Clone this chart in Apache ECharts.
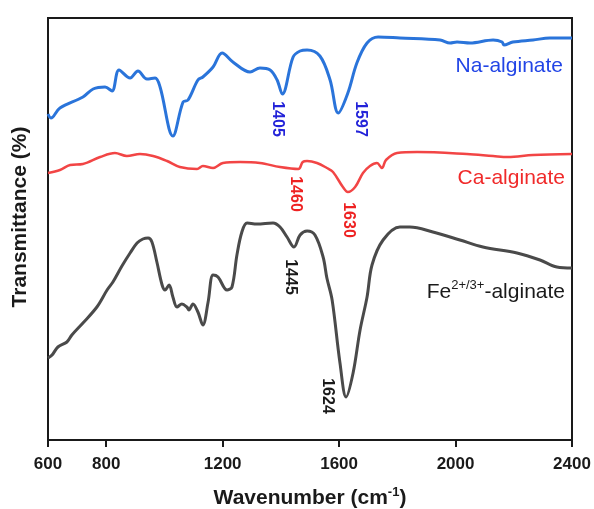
<!DOCTYPE html>
<html>
<head>
<meta charset="utf-8">
<script src="https://cdn.jsdelivr.net/npm/echarts@6/dist/echarts.min.js"></script>
<style>
  html, body { margin: 0; padding: 0; background: #fff; }
  #chart { width: 594px; height: 509px; }
</style>
</head>
<body>
<div id="chart"></div>
<script>
// FTIR spectra of Na-, Ca- and Fe-alginate (offset transmittance, arbitrary units)
const naWn = [600, 610, 641, 720, 755, 796, 820, 844, 882, 909, 940, 968, 985, 1029, 1064, 1081, 1115, 1132, 1167, 1198, 1235, 1294, 1328, 1363, 1387, 1405, 1442, 1466, 1490, 1534, 1569, 1597, 1630, 1661, 1696, 1734, 1809, 1947, 1981, 2005, 2050, 2129, 2160, 2166, 2197, 2266, 2324, 2400];
const naT  = [326, 322, 332, 343, 351, 353, 349, 370, 362, 369, 361, 362, 353, 304, 338, 340, 360, 363, 373, 387, 378, 368, 372, 370, 360, 346, 383, 389, 390, 384, 360, 327, 347, 377, 397, 403, 402, 400, 397, 398, 397, 400, 398, 395, 398, 400, 402, 402];

const caWn = [600, 641, 676, 720, 779, 830, 871, 916, 961, 1009, 1053, 1112, 1132, 1167, 1201, 1260, 1328, 1397, 1460, 1475, 1490, 1524, 1558, 1579, 1613, 1630, 1655, 1682, 1706, 1730, 1747, 1761, 1799, 1868, 2039, 2129, 2180, 2266, 2400];
const caT  = [267, 270, 275, 276, 283, 287, 284, 286, 284, 279, 273, 271, 274, 272, 277, 278, 277, 273, 271, 278, 279, 277, 272, 268, 253, 248, 253, 267, 274, 277, 272, 280, 287, 288, 286, 284, 283, 285, 286];

const feWn = [600, 614, 634, 665, 682, 720, 768, 803, 823, 854, 882, 906, 926, 944, 957, 974, 992, 1002, 1016, 1029, 1043, 1060, 1077, 1084, 1098, 1115, 1132, 1150, 1167, 1184, 1215, 1232, 1249, 1266, 1284, 1318, 1373, 1397, 1421, 1445, 1466, 1490, 1517, 1545, 1558, 1576, 1603, 1624, 1648, 1672, 1696, 1713, 1751, 1809, 1843, 1922, 2015, 2094, 2211, 2290, 2348, 2400];
const feT  = [82, 85, 93, 98, 105, 117, 133, 150, 158, 174, 187, 197, 201, 202, 198, 178, 155, 150, 155, 143, 133, 136, 133, 130, 136, 128, 115, 138, 165, 163, 150, 153, 185, 208, 217, 216, 217, 213, 203, 193, 205, 209, 205, 183, 162, 140, 77, 43, 67, 110, 143, 175, 200, 213, 213, 208, 200, 193, 187, 180, 173, 172];

const xTickValues = [600, 800, 1200, 1600, 2000, 2400];

const seriesNames = ['Na-alginate', 'Ca-alginate', 'Fe-alginate'];

function pairs(xs, ys) {
  return xs.map((x, i) => [x, ys[i]]);
}

const chart = echarts.init(document.getElementById('chart'), null, { renderer: 'canvas' });

const FONT = 'Liberation Sans, Arial, sans-serif';
const AXIS = '#1a1a1a';

// rotated peak annotations (pixel placement inside the plot)
function peakLabel(text, x, y, color) {
  return {
    type: 'text',
    x: x, y: y,
    rotation: -Math.PI / 2,
    style: {
      text: text,
      fill: color,
      font: 'bold 16px ' + FONT,
      align: 'center',
      verticalAlign: 'middle'
    }
  };
}

function sampleLabel(text, x, y, color) {
  return {
    type: 'text',
    x: x, y: y,
    style: {
      text: text,
      fill: color,
      font: '21px ' + FONT,
      align: 'right',
      verticalAlign: 'middle'
    }
  };
}

chart.setOption({
  animation: false,
  backgroundColor: '#fff',
  grid: {
    left: 48, right: 22, top: 18, bottom: 69,
    outerBoundsMode: 'none',
    containLabel: false,
    show: true,
    borderColor: AXIS,
    borderWidth: 2,
    backgroundColor: 'transparent'
  },
  xAxis: {
    type: 'value',
    min: 600,
    max: 2400,
    name: '{t|Wavenumber (cm}{s|-1}{t|)}',
    nameLocation: 'middle',
    nameGap: 46,
    nameTextStyle: {
      rich: {
        t: { fontFamily: FONT, fontWeight: 'bold', fontSize: 21, color: AXIS, lineHeight: 24 },
        s: { fontFamily: FONT, fontWeight: 'bold', fontSize: 13, color: AXIS, lineHeight: 24, verticalAlign: 'top', padding: [0, 0, 10, 0] }
      }
    },
    axisLine: { show: true, lineStyle: { color: AXIS, width: 2 } },
    axisTick: { show: true, inside: false, length: 7, lineStyle: { color: AXIS, width: 2 }, customValues: xTickValues },
    axisLabel: {
      customValues: xTickValues,
      formatter: (v) => String(v),
      margin: 16,
      fontFamily: FONT,
      fontWeight: 'bold',
      fontSize: 17,
      color: AXIS
    },
    splitLine: { show: false }
  },
  yAxis: {
    type: 'value',
    min: 0,
    max: 422,
    axisLine: { show: true, lineStyle: { color: AXIS, width: 2 } },
    axisTick: { show: false },
    axisLabel: { show: false },
    splitLine: { show: false }
  },
  series: [
    {
      name: seriesNames[0],
      type: 'line',
      data: pairs(naWn, naT),
      smooth: 0.35,
      showSymbol: false,
      lineStyle: { color: '#2a74da', width: 3 }
    },
    {
      name: seriesNames[1],
      type: 'line',
      data: pairs(caWn, caT),
      smooth: 0.35,
      showSymbol: false,
      lineStyle: { color: '#f24545', width: 2.5 }
    },
    {
      name: seriesNames[2],
      type: 'line',
      data: pairs(feWn, feT),
      smooth: 0.35,
      showSymbol: false,
      lineStyle: { color: '#4a4a4a', width: 3 }
    }
  ],
  graphic: [
    {
      type: 'text',
      x: 20, y: 217,
      rotation: Math.PI / 2,
      style: {
        text: 'Transmittance (%)',
        fill: AXIS,
        font: 'bold 21px ' + FONT,
        align: 'center',
        verticalAlign: 'middle'
      }
    },
    peakLabel('1405', 277, 119, '#2323d9'),
    peakLabel('1597', 360, 119, '#2323d9'),
    peakLabel('1460', 295, 194, '#ee2222'),
    peakLabel('1630', 348, 220, '#ee2222'),
    peakLabel('1445', 290, 277, '#1a1a1a'),
    peakLabel('1624', 327, 396, '#1a1a1a'),
    sampleLabel('Na-alginate', 563, 66, '#2245e6'),
    sampleLabel('Ca-alginate', 565, 178, '#f02a2a'),
    {
      type: 'text',
      x: 565, y: 292,
      style: {
        text: '{b|Fe}{s|2+/3+}{b|-alginate}',
        align: 'right',
        verticalAlign: 'middle',
        rich: {
          b: { fontFamily: FONT, fontSize: 21, fill: '#1a1a1a', lineHeight: 26 },
          s: { fontFamily: FONT, fontSize: 13, fill: '#1a1a1a', lineHeight: 26, verticalAlign: 'top', padding: [0, 0, 12, 0] }
        }
      }
    }
  ]
});
</script>
</body>
</html>
